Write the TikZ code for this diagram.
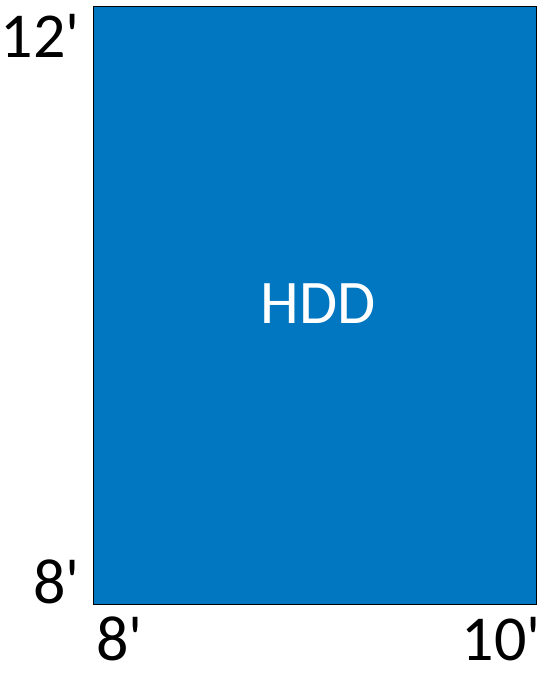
\documentclass[tikz,border=0pt]{standalone}
\usepackage{fontspec}
\setmainfont{Carlito}
\definecolor{hddblue}{RGB}{0,119,192}

\begin{document}
\begin{tikzpicture}[x=1pt,y=-1pt]
\useasboundingbox (0,0) rectangle (545,673);
\tikzset{dim/.style={inner sep=0pt, text depth=0pt, font=\fontsize{64}{64}\selectfont}}

\draw[fill=hddblue, draw=black, line width=0.8pt] (93, 6) rectangle (536,604);

\node[inner sep=0pt, anchor=base, text=white, font=\fontsize{62}{62}\selectfont] (H) at (318, 323) {HDD};

\node[dim, anchor=base east] (Y2) at (80, 57) {12\textquotesingle};
\node[dim, anchor=base east] (Y1) at (80, 603) {8\textquotesingle};
\node[dim, anchor=base west] (X1) at (96, 660) {8\textquotesingle};
\node[dim, anchor=base east] (X2) at (541, 660) {10\textquotesingle};
\end{tikzpicture}
\end{document}
